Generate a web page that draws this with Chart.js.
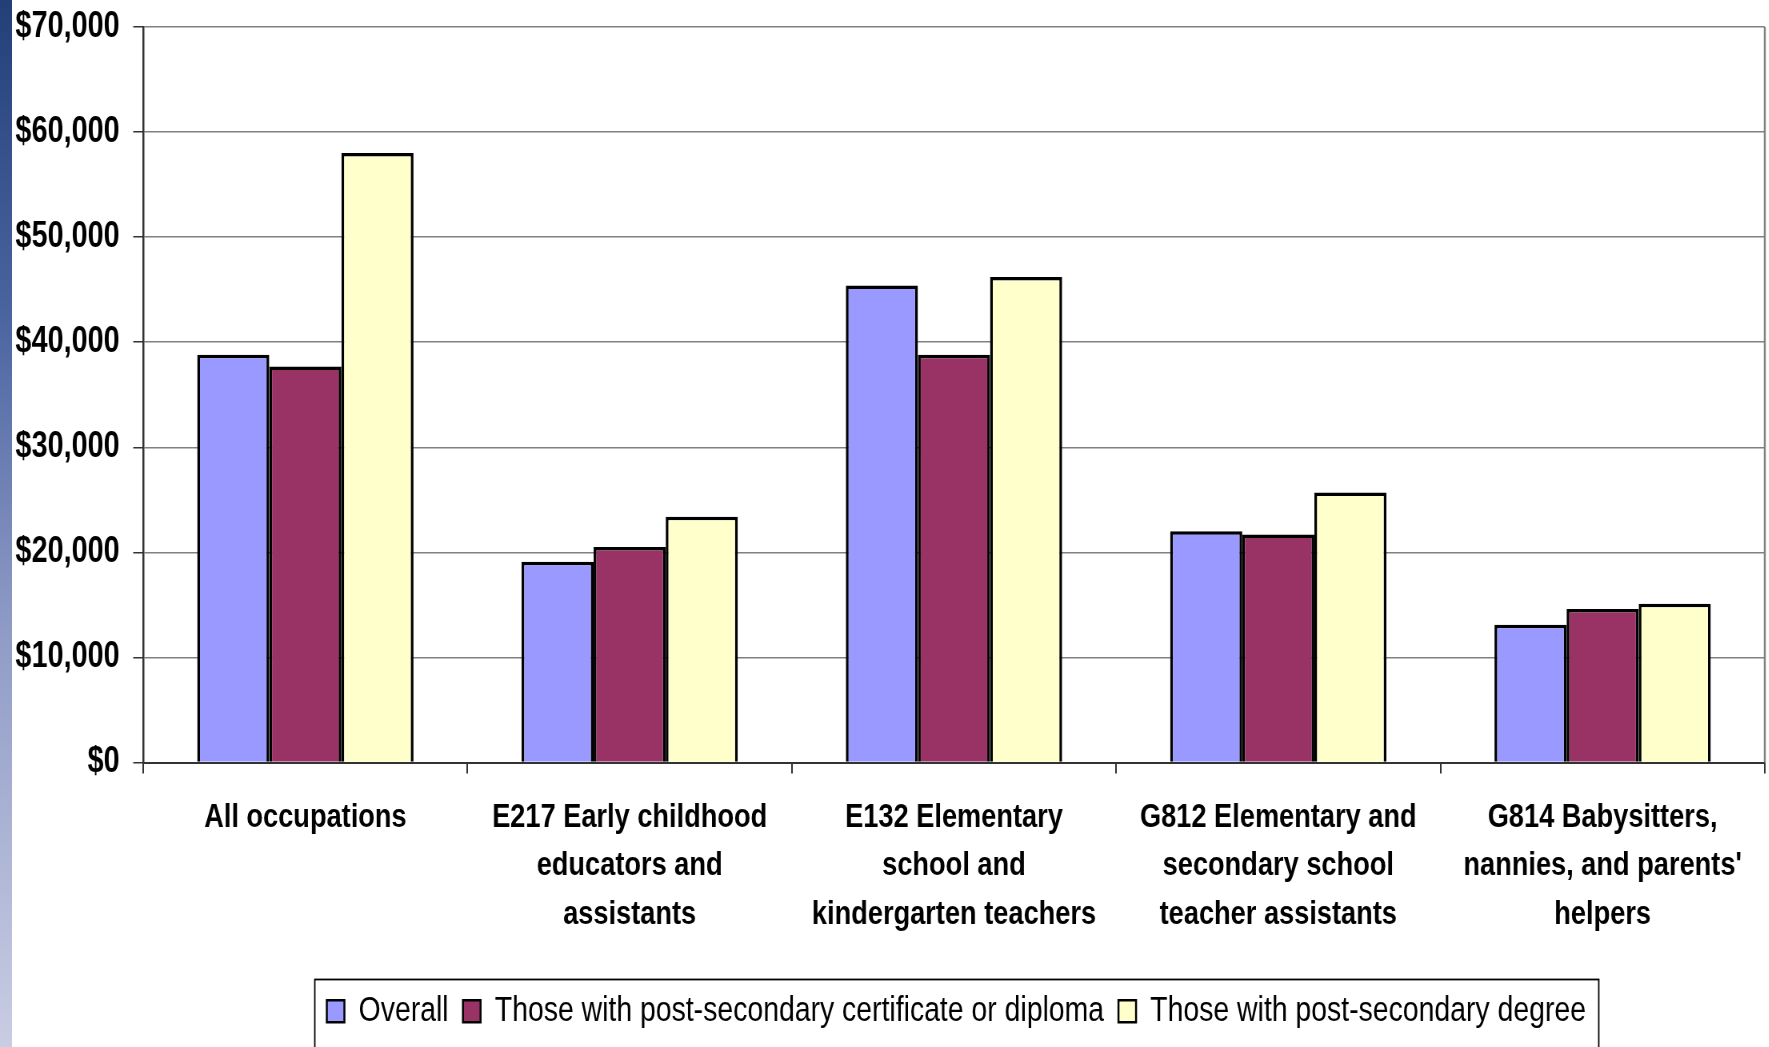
<!DOCTYPE html>
<html>
<head>
<meta charset="utf-8">
<script src="https://cdn.jsdelivr.net/npm/chart.js@4.4.1/dist/chart.umd.min.js"></script>
<style>
  html, body { margin: 0; padding: 0; background: #fff; }
  #wrap { position: relative; width: 1769px; height: 1047px; overflow: hidden; }
  #stripe {
    position: absolute; left: 0; top: 0; width: 12px; height: 1047px; z-index: 2;
    background: linear-gradient(to bottom, #233f78 0%, #4a64a0 30%, #8f9bc6 60%, #c9cde3 100%);
  }
  /* the source chart uses horizontally squeezed lettering, so the canvas is drawn wider and squeezed */
  #squeeze { position: absolute; left: 0; top: 0; transform: scaleX(0.8); transform-origin: 0 0; }
</style>
</head>
<body>
<div id="wrap">
  <div id="stripe"></div>
  <div id="squeeze">
    <canvas id="earningsChart" width="2212" height="1047"></canvas>
  </div>
</div>
<script>
const categories = [
    ["All occupations"],
    ["E217 Early childhood", "educators and", "assistants"],
    ["E132 Elementary", "school and", "kindergarten teachers"],
    ["G812 Elementary and", "secondary school", "teacher assistants"],
    ["G814 Babysitters,", "nannies, and parents'", "helpers"]
];
const seriesNames = [
    "Overall",
    "Those with post-secondary certificate or diploma",
    "Those with post-secondary degree"
];
const overall = [38800, 19100, 45400, 22000, 13100];
const certificate = [37700, 20500, 38800, 21700, 14600];
const degree = [58000, 23400, 46200, 25700, 15100];
const yTicks = [0, 10000, 20000, 30000, 40000, 50000, 60000, 70000];

const fontFamily = "'Liberation Sans', Arial, sans-serif";
const legendShift = 85;

const frame = {
    id: "frame",
    afterLayout(chart) {
        // legend sits right of centre in the original
        const legend = chart.legend;
        legend.left += legendShift;
        legend.right += legendShift;
        (legend.legendHitBoxes || []).forEach(b => { b.left += legendShift; });
    },
    afterDraw(chart) {
        const ctx = chart.ctx;
        const area = chart.chartArea;
        ctx.save();
        ctx.strokeStyle = "#808080";
        ctx.lineWidth = 2.5;
        ctx.beginPath();
        ctx.moveTo(area.right, area.top);
        ctx.lineTo(area.right, area.bottom);
        ctx.stroke();

        const boxes = chart.legend.legendHitBoxes;
        if (boxes && boxes.length) {
            const first = boxes[0];
            const last = boxes[boxes.length - 1];
            const left = first.left - 15;
            const right = last.left + last.width + 16;
            const top = first.top - 14;
            ctx.strokeStyle = "#000";
            ctx.lineWidth = 1.8;
            ctx.strokeRect(left, top, right - left, 200);
        }
        ctx.restore();
    }
};

new Chart(
    document.getElementById("earningsChart"),
    {
        type: "bar",
        data: {
            labels: categories,
            datasets: [
                { label: seriesNames[0], data: overall, backgroundColor: "#9999ff" },
                { label: seriesNames[1], data: certificate, backgroundColor: "#993366" },
                { label: seriesNames[2], data: degree, backgroundColor: "#ffffcc" }
            ]
        },
        options: {
            responsive: false,
            animation: false,
            datasets: {
                bar: {
                    borderColor: "#000",
                    borderWidth: 3.5,
                    categoryPercentage: 0.667,
                    barPercentage: 1.0
                }
            },
            layout: {
                padding: { left: 15, top: 27, right: 6, bottom: 8 }
            },
            plugins: {
                legend: {
                    position: "bottom",
                    labels: {
                        font: { family: fontFamily, size: 35.5 },
                        color: "#000",
                        boxWidth: 22,
                        boxHeight: 22,
                        padding: 18,
                        generateLabels(chart) {
                            return chart.data.datasets.map((ds, i) => ({
                                text: ds.label,
                                fillStyle: ds.backgroundColor,
                                strokeStyle: "#000",
                                lineWidth: 2.5,
                                datasetIndex: i
                            }));
                        }
                    }
                },
                tooltip: { enabled: false }
            },
            scales: {
                x: {
                    afterFit(scale) {
                        scale.height = 213;
                    },
                    grid: {
                        display: true,
                        drawOnChartArea: false,
                        offset: true,
                        color: "#333",
                        tickLength: 11,
                        lineWidth: 2
                    },
                    border: { color: "#333", width: 2 },
                    ticks: {
                        color: "#000",
                        font: { family: fontFamily, size: 34, weight: "bold", lineHeight: 1.42 },
                        padding: 20,
                        maxRotation: 0,
                        autoSkip: false
                    }
                },
                y: {
                    min: 0,
                    max: 70000,
                    afterBuildTicks(scale) {
                        scale.ticks = yTicks.map(v => ({ value: v }));
                    },
                    afterFit(scale) {
                        scale.width = 164;
                        scale.paddingTop = 0;
                        scale.paddingBottom = 0;
                    },
                    grid: {
                        color: "#808080",
                        lineWidth: 1.5,
                        tickLength: 12.5,
                        tickColor: "#333"
                    },
                    border: { color: "#333", width: 2.5 },
                    ticks: {
                        color: "#000",
                        font: { family: fontFamily, size: 36, weight: "bold" },
                        padding: 17,
                        callback: v => "$" + v.toLocaleString("en-US")
                    }
                }
            }
        },
        plugins: [frame]
    }
);
</script>
</body>
</html>
